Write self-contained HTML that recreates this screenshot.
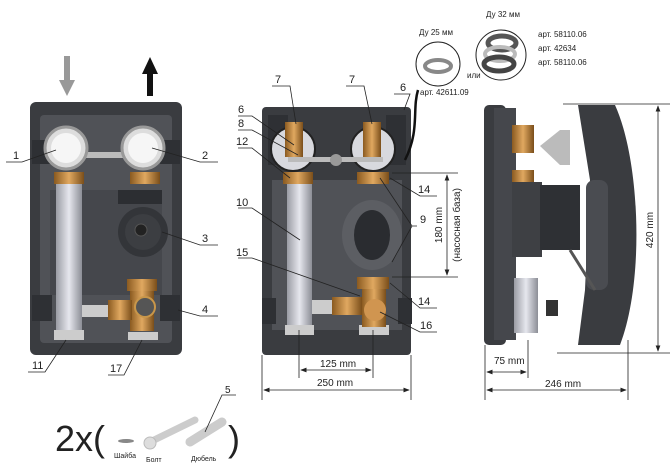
<!DOCTYPE html>
<html><head><meta charset="utf-8"><style>
html,body{margin:0;padding:0;background:#fff;}
svg{display:block;}
text{font-family:"Liberation Sans",sans-serif;fill:#222;}
</style></head><body>
<svg width="670" height="471" viewBox="0 0 670 471" xmlns="http://www.w3.org/2000/svg">
<defs>
<marker id="a" markerWidth="8" markerHeight="6" refX="7" refY="3" orient="auto-start-reverse"><path d="M0,0 L8,3 L0,6 Z" fill="#222"/></marker>
<linearGradient id="pipe" x1="0" x2="1"><stop offset="0" stop-color="#9a9ca4"/><stop offset="0.5" stop-color="#e6e7ee"/><stop offset="1" stop-color="#8c8e96"/></linearGradient>
<linearGradient id="brass" x1="0" x2="1"><stop offset="0" stop-color="#8a5a20"/><stop offset="0.5" stop-color="#e0a860"/><stop offset="1" stop-color="#7a4e1a"/></linearGradient>
</defs>

<!-- arrows -->
<rect x="64" y="56" width="6" height="26" fill="#999"/><path d="M59,80 L75,80 L67,96 Z" fill="#999"/>
<rect x="147" y="72" width="6" height="24" fill="#111"/><path d="M142,74 L158,74 L150,57 Z" fill="#111"/>

<!-- LEFT UNIT -->
<rect x="30" y="102" width="152" height="253" rx="6" fill="#3a3c40"/>
<rect x="40" y="115" width="132" height="228" rx="4" fill="#505257"/>
<rect x="50" y="190" width="112" height="105" fill="#45474c"/>
<rect x="32" y="140" width="20" height="24" fill="#2e3034"/><rect x="160" y="140" width="20" height="24" fill="#2e3034"/>
<rect x="32" y="295" width="20" height="26" fill="#2e3034"/><rect x="160" y="295" width="20" height="26" fill="#2e3034"/>
<rect x="82" y="152" width="45" height="6" fill="#bbb"/>
<circle cx="66" cy="148" r="21" fill="#ddd" stroke="#999" stroke-width="3"/><circle cx="66" cy="148" r="15" fill="#f6f6f6"/>
<circle cx="143" cy="148" r="21" fill="#ddd" stroke="#999" stroke-width="3"/><circle cx="143" cy="148" r="15" fill="#f6f6f6"/>
<rect x="54" y="172" width="30" height="12" fill="url(#brass)"/><rect x="130" y="172" width="30" height="12" fill="url(#brass)"/>
<rect x="56" y="184" width="26" height="150" fill="url(#pipe)"/>
<rect x="54" y="330" width="30" height="10" fill="#ccc"/><rect x="128" y="332" width="30" height="8" fill="#ccc"/>
<rect x="118" y="190" width="44" height="14" fill="#2c2e32"/>
<circle cx="143" cy="232" r="25" fill="#333539"/><circle cx="143" cy="232" r="18" fill="#3c3e42"/><circle cx="141" cy="230" r="6" fill="#222" stroke="#555"/>
<rect x="127" y="279" width="30" height="12" fill="url(#brass)"/>
<rect x="130" y="291" width="24" height="40" fill="url(#brass)"/>
<rect x="82" y="305" width="30" height="12" fill="#ccc"/><rect x="108" y="300" width="24" height="20" fill="url(#brass)"/>
<circle cx="145" cy="307" r="10" fill="#555" stroke="#c8964a" stroke-width="2"/>

<!-- left labels -->
<g stroke="#222" stroke-width="0.8" fill="none">
<path d="M6,162 L22,162 L56,150"/><path d="M218,162 L200,162 L152,148"/>
<path d="M218,245 L200,245 L162,232"/><path d="M218,316 L200,316 L178,310"/>
<path d="M28,372 L45,372 L66,340"/><path d="M108,375 L124,375 L142,340"/>
</g>
<g font-size="11"><text x="13" y="159">1</text><text x="202" y="159">2</text><text x="202" y="242">3</text><text x="202" y="313">4</text><text x="32" y="369">11</text><text x="110" y="372">17</text></g>

<!-- MIDDLE UNIT -->
<rect x="262" y="107" width="149" height="248" rx="4" fill="#3a3c40"/>
<rect x="272" y="180" width="130" height="150" fill="#505257"/>
<rect x="268" y="115" width="20" height="50" fill="#2e3034"/><rect x="386" y="115" width="20" height="50" fill="#2e3034"/>
<rect x="262" y="298" width="14" height="26" fill="#2e3034"/><rect x="398" y="298" width="14" height="26" fill="#2e3034"/>
<circle cx="293" cy="149" r="22" fill="#d8d9de" stroke="#222" stroke-width="2"/>
<circle cx="373" cy="149" r="22" fill="#d8d9de" stroke="#222" stroke-width="2"/>
<rect x="285" y="122" width="18" height="35" fill="url(#brass)"/><rect x="363" y="122" width="18" height="35" fill="url(#brass)"/>
<rect x="288" y="157" width="95" height="5" fill="#bbb"/><circle cx="336" cy="160" r="6" fill="#999"/>
<rect x="283" y="172" width="30" height="12" fill="url(#brass)"/><rect x="357" y="172" width="32" height="12" fill="url(#brass)"/>
<rect x="287" y="184" width="25" height="145" fill="url(#pipe)"/>
<rect x="285" y="325" width="29" height="10" fill="#ccc"/><rect x="359" y="325" width="30" height="10" fill="#ccc"/>
<ellipse cx="372" cy="235" rx="30" ry="35" fill="#5c5e63"/>
<ellipse cx="372" cy="235" rx="18" ry="25" fill="#2a2c30"/>
<rect x="357" y="277" width="32" height="12" fill="url(#brass)"/>
<rect x="362" y="289" width="24" height="38" fill="url(#brass)"/>
<circle cx="375" cy="310" r="11" fill="#d09550"/>
<rect x="312" y="300" width="22" height="14" fill="#ccc"/><rect x="332" y="297" width="30" height="18" fill="url(#brass)"/>
<path d="M418,90 C412,110 420,130 405,160" stroke="#111" stroke-width="2.5" fill="none"/>

<!-- middle leaders -->
<g stroke="#222" stroke-width="0.8" fill="none">
<path d="M272,86 L290,86 L296,124"/><path d="M346,86 L364,86 L372,124"/>
<path d="M394,94 L410,94 L404,110"/>
<path d="M238,116 L252,116 L294,145"/><path d="M238,130 L252,130 L298,155"/><path d="M238,148 L252,148 L290,178"/>
<path d="M238,208 L252,208 L300,240"/><path d="M238,258 L252,258 L360,296"/>
<path d="M437,196 L420,196 L390,178"/><path d="M437,308 L420,308 L390,283"/>
<path d="M417,226 L412,226 L380,178 M412,226 L392,262"/>
<path d="M437,332 L420,332 L380,312"/>
</g>
<g font-size="11"><text x="275" y="83">7</text><text x="349" y="83">7</text><text x="400" y="91">6</text>
<text x="238" y="113">6</text><text x="238" y="127">8</text><text x="236" y="145">12</text>
<text x="236" y="206">10</text><text x="236" y="256">15</text>
<text x="418" y="193">14</text><text x="418" y="305">14</text><text x="420" y="223">9</text><text x="420" y="329">16</text></g>

<!-- middle dims -->
<g stroke="#222" stroke-width="0.8" fill="none">
<path d="M262,355 L262,400 M411,355 L411,400"/>
<path d="M264,390 L409,390" marker-start="url(#a)" marker-end="url(#a)"/>
<path d="M299,330 L299,378 M373,330 L373,378"/>
<path d="M301,370 L371,370" marker-start="url(#a)" marker-end="url(#a)"/>
<path d="M392,173 L458,173 M392,277 L458,277"/>
<path d="M447,175 L447,275" marker-start="url(#a)" marker-end="url(#a)"/>
</g>
<g font-size="10"><text x="320" y="367">125 mm</text><text x="317" y="386">250 mm</text></g>
<text font-size="10" transform="translate(442,225) rotate(-90)" text-anchor="middle">180 mm</text>
<text font-size="10" transform="translate(460,225) rotate(-90)" text-anchor="middle">(насосная база)</text>

<!-- gasket circles -->
<circle cx="438" cy="64" r="22" fill="#fff" stroke="#222" stroke-width="1"/>
<ellipse cx="438" cy="66" rx="13" ry="6" fill="none" stroke="#888" stroke-width="4"/>
<circle cx="501" cy="55" r="25" fill="#fff" stroke="#222" stroke-width="1"/>
<ellipse cx="502" cy="43" rx="14" ry="7" fill="none" stroke="#555" stroke-width="5"/>
<ellipse cx="500" cy="54" rx="15" ry="7" fill="none" stroke="#bbb" stroke-width="4"/>
<ellipse cx="499" cy="64" rx="15" ry="7" fill="none" stroke="#444" stroke-width="5"/>
<g font-size="8"><text x="419" y="35">Ду 25 мм</text><text x="486" y="17">Ду 32 мм</text><text x="467" y="78">или</text>
<text x="420" y="95">арт. 42611.09</text>
<text x="538" y="37">арт. 58110.06</text><text x="538" y="51">арт. 42634</text><text x="538" y="65">арт. 58110.06</text></g>

<!-- RIGHT SIDE VIEW -->
<rect x="484" y="105" width="22" height="240" rx="5" fill="#3a3c40"/>
<rect x="494" y="108" width="22" height="232" fill="#45474c"/>
<rect x="512" y="125" width="22" height="28" fill="url(#brass)"/>
<rect x="512" y="170" width="22" height="12" fill="url(#brass)"/>
<rect x="512" y="182" width="30" height="75" fill="#3e4044"/>
<path d="M540,146 L560,130 L570,130 L570,165 L560,165 Z" fill="#bbb"/>
<rect x="540" y="185" width="40" height="65" fill="#2e3034"/>
<rect x="514" y="278" width="24" height="55" fill="url(#pipe)"/>
<rect x="546" y="300" width="12" height="16" fill="#333"/>
<path d="M578,105 L615,105 C640,160 645,280 620,345 L578,345 L585,290 L590,180 Z" fill="#3a3c40"/>
<rect x="586" y="180" width="22" height="110" rx="8" fill="#4a4c51"/>
<path d="M570,250 L595,290" stroke="#555" stroke-width="3"/>
<g stroke="#222" stroke-width="0.8" fill="none">
<path d="M563,104 L670,104 M557,353 L670,353"/>
<path d="M658,106 L658,351" marker-start="url(#a)" marker-end="url(#a)"/>
<path d="M485,345 L485,400 M528,340 L528,378 M628,340 L628,400"/>
<path d="M487,372 L526,372" marker-start="url(#a)" marker-end="url(#a)"/>
<path d="M487,390 L626,390" marker-start="url(#a)" marker-end="url(#a)"/>
</g>
<g font-size="10"><text x="494" y="364">75 mm</text><text x="545" y="387">246 mm</text></g>
<text font-size="10" transform="translate(653,230) rotate(-90)" text-anchor="middle">420 mm</text>

<!-- accessories -->
<text x="55" y="451" font-size="36" fill="#222">2x(</text>
<text x="228" y="451" font-size="36" fill="#222">)</text>
<ellipse cx="126" cy="441" rx="8" ry="2" fill="#888"/>
<path d="M150,442 L195,420" stroke="#ccc" stroke-width="7" stroke-linecap="round"/>
<circle cx="150" cy="443" r="6" fill="#ddd" stroke="#bbb"/>
<path d="M190,442 L222,422" stroke="#ccc" stroke-width="9" stroke-linecap="round"/>
<path d="M205,432 L222,395 L236,395" stroke="#222" stroke-width="0.8" fill="none"/>
<g font-size="7"><text x="114" y="458">Шайба</text><text x="146" y="462">Болт</text><text x="191" y="461">Дюбель</text></g>
<text x="225" y="393" font-size="10">5</text>
</svg>
</body></html>
